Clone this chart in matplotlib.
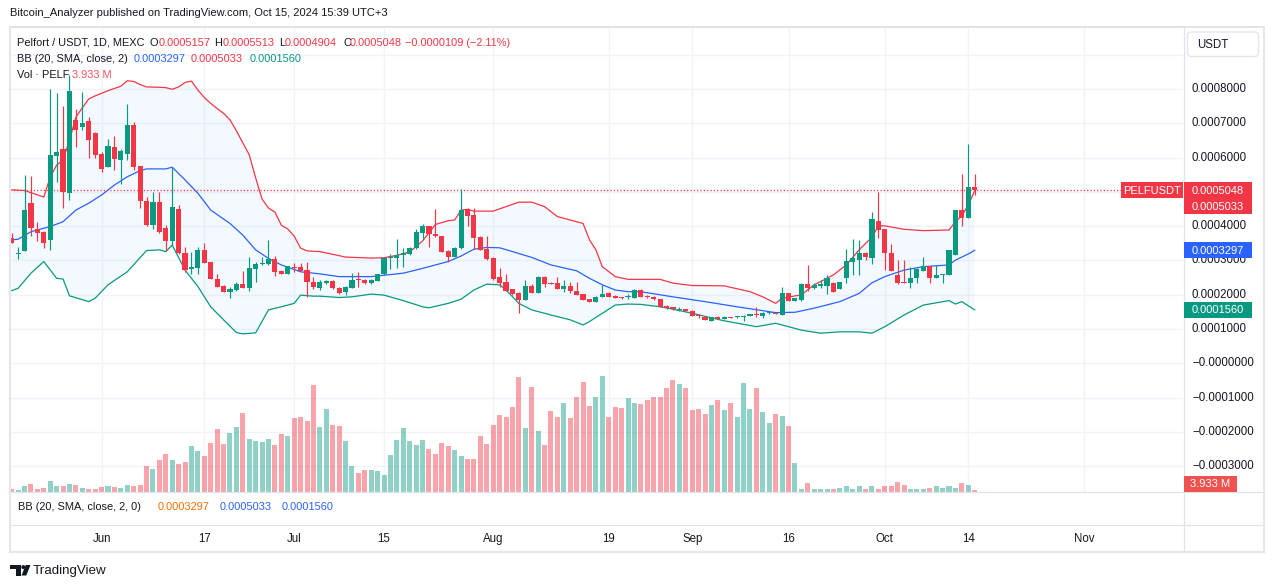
import numpy as np
import pandas as pd
import matplotlib
matplotlib.use("Agg")
import matplotlib.pyplot as plt
import matplotlib.dates as mdates
import matplotlib.transforms as mtransforms
from matplotlib.patches import Rectangle, Polygon, Circle, FancyBboxPatch
from matplotlib.lines import Line2D

plt.rcParams['font.family'] = ['Liberation Sans', 'DejaVu Sans']

# ---------------- data (prices in units of 0.0001 USDT) ----------------
UNIT = 1e-4
START = "2024-05-18"

OPEN = [3.67, 3.18, 3.29, 4.67, 3.92, 3.82, 3.60, 6.05, 6.25, 4.98,
        7.10, 6.90, 7.07, 6.72, 6.11, 5.74, 6.31, 5.93, 6.11, 6.95,
        5.76, 4.73, 4.04, 4.71, 3.96, 3.57, 4.50, 3.23, 2.74, 2.79,
        3.31, 2.96, 2.46, 2.27, 2.09, 2.14, 2.31, 2.21, 2.76, 2.90,
        2.89, 3.04, 2.70, 2.62, 2.81, 2.81, 2.72, 2.38, 2.19, 2.34,
        2.40, 2.21, 2.09, 2.21, 2.44, 2.43, 2.33, 2.41, 2.60, 3.07,
        3.08, 3.15, 3.19, 3.35, 3.81, 4.01, 3.76, 3.71, 3.29, 3.11,
        3.35, 4.49, 4.33, 3.68, 3.34, 3.08, 2.53, 2.36, 2.16, 2.06,
        1.85, 2.26, 2.06, 2.53, 2.34, 2.35, 2.18, 2.26, 2.11, 2.02,
        1.88, 1.80, 1.95, 2.04, 1.97, 1.92, 1.94, 1.92, 2.14, 1.96,
        1.95, 1.88, 1.68, 1.63, 1.57, 1.59, 1.54, 1.40, 1.36, 1.25,
        1.36, 1.29, 1.34, 1.35, 1.34, 1.38, 1.43, 1.39, 1.46, 1.47,
        1.41, 2.04, 1.83, 1.85, 2.31, 2.20, 2.26, 2.26, 2.35, 2.17,
        2.50, 2.97, 3.02, 3.23, 3.08, 4.15, 3.92, 3.21, 2.58, 2.37,
        2.35, 2.48, 2.70, 2.84, 2.50, 2.58, 2.59, 3.16, 4.47, 4.25,
        5.157]
HIGH = [3.79, 3.40, 5.49, 5.47, 4.11, 3.85, 8.00, 7.87, 7.49, 8.41,
        7.41, 7.92, 7.19, 6.75, 6.15, 6.53, 6.63, 6.25, 7.56, 7.04,
        5.76, 4.86, 5.00, 5.01, 4.03, 5.74, 4.62, 3.40, 3.24, 3.40,
        3.50, 2.97, 2.60, 2.28, 2.24, 2.36, 2.70, 3.11, 2.95, 3.11,
        3.60, 3.14, 2.72, 2.85, 2.94, 2.93, 2.96, 2.53, 2.42, 2.43,
        2.42, 2.22, 2.25, 2.63, 2.66, 2.45, 2.46, 2.62, 3.09, 3.19,
        3.63, 3.36, 3.40, 3.92, 4.06, 4.02, 4.50, 3.72, 3.30, 3.39,
        5.09, 4.54, 4.54, 3.71, 3.71, 3.09, 2.77, 2.61, 2.18, 2.07,
        2.43, 2.30, 2.55, 2.55, 2.36, 2.51, 2.43, 2.36, 2.36, 2.03,
        1.89, 1.96, 2.29, 2.07, 1.98, 1.94, 2.02, 2.16, 2.16, 2.00,
        1.96, 1.89, 1.69, 1.64, 1.65, 1.60, 1.55, 1.44, 1.38, 1.35,
        1.37, 1.37, 1.35, 1.39, 1.41, 1.45, 1.65, 1.49, 1.49, 1.48,
        2.24, 2.06, 1.91, 2.33, 2.87, 2.34, 2.43, 2.58, 2.37, 2.37,
        3.34, 3.62, 3.60, 3.24, 4.42, 5.01, 3.93, 3.48, 3.01, 3.01,
        2.82, 2.77, 3.11, 2.85, 2.87, 2.62, 3.32, 4.48, 5.52, 6.40,
        5.513]
LOW = [3.50, 3.04, 3.27, 3.72, 3.58, 3.37, 3.31, 5.30, 4.54, 4.76,
       6.32, 6.80, 6.00, 6.00, 5.59, 5.72, 5.64, 5.22, 5.93, 5.64,
       4.54, 4.01, 3.92, 3.81, 3.28, 3.45, 3.19, 2.67, 2.61, 2.60,
       2.93, 2.45, 2.23, 2.08, 1.92, 2.12, 2.20, 2.11, 2.38, 2.87,
       2.88, 2.56, 2.60, 2.61, 2.67, 2.68, 1.95, 2.16, 2.15, 2.32,
       2.17, 2.01, 2.00, 2.19, 2.24, 2.31, 2.30, 2.40, 2.59, 2.75,
       2.79, 2.80, 3.17, 3.33, 3.62, 3.38, 3.69, 3.24, 2.95, 3.09,
       3.34, 4.02, 3.34, 3.30, 3.01, 2.43, 2.24, 2.10, 2.00, 1.46,
       1.84, 2.04, 2.04, 2.24, 2.30, 2.16, 2.09, 2.04, 1.99, 1.84,
       1.78, 1.79, 1.94, 1.93, 1.91, 1.88, 1.88, 1.91, 1.94, 1.90,
       1.86, 1.64, 1.60, 1.57, 1.54, 1.52, 1.37, 1.31, 1.26, 1.24,
       1.28, 1.28, 1.32, 1.33, 1.25, 1.37, 1.36, 1.33, 1.44, 1.43,
       1.40, 1.82, 1.82, 1.82, 2.12, 2.18, 2.19, 2.02, 2.08, 2.16,
       2.34, 2.58, 2.58, 3.02, 2.90, 3.65, 2.72, 2.69, 2.32, 2.33,
       2.19, 2.34, 2.69, 2.35, 2.49, 2.35, 2.58, 3.15, 4.01, 4.24,
       4.904]
CLOSE = [3.50, 3.20, 4.47, 3.96, 3.81, 3.51, 6.08, 6.17, 5.01, 7.94,
         6.81, 7.02, 6.51, 6.08, 5.67, 6.34, 5.96, 6.19, 6.95, 5.74,
         4.72, 4.04, 4.71, 3.84, 3.58, 4.56, 3.21, 2.72, 2.80, 3.31,
         2.94, 2.46, 2.24, 2.09, 2.17, 2.31, 2.21, 2.79, 2.91, 2.93,
         3.04, 2.67, 2.61, 2.83, 2.79, 2.69, 2.37, 2.22, 2.38, 2.40,
         2.19, 2.06, 2.24, 2.43, 2.42, 2.33, 2.43, 2.60, 3.08, 3.11,
         3.16, 3.23, 3.37, 3.84, 4.01, 3.76, 3.70, 3.26, 3.11, 3.37,
         4.47, 4.31, 3.67, 3.31, 3.03, 2.45, 2.35, 2.11, 2.02, 1.85,
         2.26, 2.06, 2.53, 2.32, 2.32, 2.17, 2.26, 2.10, 2.00, 1.85,
         1.80, 1.95, 2.02, 1.95, 1.92, 1.91, 1.96, 2.14, 1.95, 1.94,
         1.87, 1.65, 1.61, 1.58, 1.59, 1.53, 1.38, 1.39, 1.27, 1.34,
         1.29, 1.36, 1.33, 1.36, 1.39, 1.44, 1.42, 1.46, 1.47, 1.44,
         2.04, 1.83, 1.90, 2.32, 2.19, 2.28, 2.32, 2.48, 2.09, 2.36,
         2.99, 3.08, 3.23, 3.11, 4.21, 3.89, 3.21, 2.70, 2.34, 2.35,
         2.49, 2.75, 2.84, 2.50, 2.58, 2.60, 3.31, 4.47, 4.25, 5.157,
         5.048]
VOLUME_M = [6, 4, 12, 16, 6, 8, 22, 12, 12, 16, 14, 8, 6, 6, 10, 12, 10, 8, 14, 12,
            14, 52, 46, 64, 76, 64, 56, 60, 92, 82, 72, 98, 126, 96, 118, 130, 158, 106, 102, 100,
            106, 94, 116, 112, 148, 150, 142, 214, 130, 166, 134, 132, 102, 52, 38, 44, 44, 42, 34, 74,
            104, 128, 102, 94, 104, 86, 76, 98, 92, 84, 72, 66, 66, 112, 96, 134, 154, 150, 170, 230,
            128, 210, 122, 94, 162, 150, 178, 148, 190, 220, 172, 190, 232, 150, 170, 168, 188, 178, 176, 184,
            190, 190, 208, 224, 216, 208, 164, 166, 156, 174, 184, 164, 178, 150, 218, 166, 208, 160, 138, 156,
            152, 132, 58, 4.5, 18, 4.5, 4.5, 6, 6, 8, 12, 4.5, 12, 6, 12, 6, 12, 12, 20, 14,
            6, 4.5, 6, 8, 12, 8, 12, 8, 18, 14, 3.933]

# Bollinger Bands (20, SMA, close, 2): candle index -> value
UPPER_IDX = [0, 2, 5, 6, 7, 8, 9, 10, 11, 12, 13, 15, 17, 18, 19, 20, 21, 23, 24, 25, 26, 27, 28, 29,
             30, 31, 32, 33, 34, 35, 36, 37, 38, 39, 40, 41, 42, 43, 44, 45, 46, 48, 52, 56, 58, 60,
             62, 64, 66, 68, 69, 70, 71, 72, 75, 77, 79, 81, 83, 85, 88, 89, 90, 91, 92, 94, 96, 98,
             101, 103, 106, 111, 115, 117, 119, 120, 123, 125, 128, 130, 132, 134, 135, 136, 139,
             142, 146, 147, 148, 149, 150]
UPPER = [5.06, 5.04, 4.85, 5.43, 5.78, 5.93, 6.51, 7.18, 7.45, 7.71, 7.80, 7.95, 8.08, 8.24, 8.22,
         8.13, 8.06, 8.05, 8.04, 7.99, 8.06, 8.19, 8.23, 7.97,
         7.75, 7.58, 7.43, 7.29, 7.10, 6.78, 6.43, 6.08, 5.41, 4.79, 4.53, 4.41, 4.03, 3.92, 3.71,
         3.36, 3.28, 3.26, 3.10, 3.07, 3.08, 3.15,
         3.25, 3.57, 4.05, 4.16, 4.18, 4.47, 4.49, 4.44, 4.44, 4.57, 4.70, 4.70, 4.57, 4.28, 4.13,
         4.08, 3.60, 3.31, 2.82, 2.53, 2.45, 2.45,
         2.45, 2.34, 2.27, 2.26, 2.09, 1.94, 1.75, 1.90, 2.00, 2.29, 2.58, 2.87, 3.31, 3.68, 4.01,
         4.01, 3.91, 3.87, 3.89, 4.13, 4.30, 4.62, 5.033]
MID_IDX = [0, 1, 3, 6, 8, 10, 12, 14, 16, 18, 20, 21, 24, 25, 27, 29, 31, 34, 36, 38, 40, 42, 45,
           48, 51, 56, 61, 64, 68, 70, 72, 74, 76, 78, 81, 84, 88, 90, 92, 94, 96, 98, 103, 108,
           113, 119, 122, 125, 129, 132, 134, 136, 139, 142, 146, 147, 149, 150]
MID = [3.60, 3.62, 3.84, 3.99, 4.13, 4.47, 4.67, 4.91, 5.20, 5.44, 5.62, 5.67, 5.67, 5.72, 5.35,
       4.96, 4.47, 4.08, 3.74, 3.31, 3.06, 2.87, 2.67,
       2.61, 2.53, 2.53, 2.63, 2.77, 2.97, 3.13, 3.33, 3.38, 3.37, 3.26, 3.09, 2.87, 2.70, 2.48,
       2.29, 2.14, 2.09, 2.09, 1.94, 1.80,
       1.65, 1.48, 1.49, 1.61, 1.80, 2.04, 2.35, 2.53, 2.72, 2.82, 2.87, 3.01, 3.19, 3.297]
LOWER_IDX = [0, 1, 3, 5, 7, 8, 9, 12, 13, 15, 18, 21, 23, 24, 25, 27, 29, 31, 33, 35, 36, 38, 40,
             42, 44, 45, 47, 48, 51, 53, 56, 58, 61, 64, 65, 68, 70, 72, 74, 76, 77, 79, 81, 84,
             87, 89, 90, 92, 94, 96, 98, 101, 103, 106, 111, 116, 119, 121, 123, 126, 129, 132,
             134, 136, 139, 142, 146, 147, 148, 150]
LOWER = [2.12, 2.19, 2.63, 2.97, 2.48, 2.46, 1.97, 1.80, 1.90, 2.29, 2.67, 3.29, 3.31, 3.26, 3.45,
         2.72, 2.24, 1.65, 1.27, 0.90, 0.86, 0.89, 1.56,
         1.65, 1.75, 1.99, 1.96, 1.96, 1.92, 1.94, 2.02, 1.99, 1.83, 1.65, 1.62, 1.75, 1.87, 2.14,
         2.31, 2.29, 2.14, 1.75, 1.56, 1.41,
         1.27, 1.12, 1.22, 1.46, 1.70, 1.73, 1.72, 1.65, 1.58, 1.46, 1.24, 1.07, 1.17, 1.07, 0.97,
         0.88, 0.92, 0.92,
         0.88, 1.07, 1.41, 1.70, 1.83, 1.73, 1.80, 1.56]

TICK_DATES = ["2024-06-01", "2024-06-17", "2024-07-01", "2024-07-15", "2024-08-01", "2024-08-19",
              "2024-09-01", "2024-09-16", "2024-10-01", "2024-10-14", "2024-11-01"]
TICK_LABELS = ["Jun", "17", "Jul", "15", "Aug", "19", "Sep", "16", "Oct", "14", "Nov"]
PRICE_TICKS = [-3, -2, -1, 0, 1, 2, 3, 4, 5, 6, 7, 8, 9]

# ---------------- styling ----------------
UP_COL = "#089981"
DN_COL = "#F23645"
BLUE = "#2962FF"
ORANGE = "#FF6D00"
TXT = "#131722"
GRID = "#f0f3fa"
BORDER = "#e0e3eb"

W, H = 1273, 588
fig = plt.figure(figsize=(W / 100, H / 100), dpi=100)
fig.patch.set_facecolor("white")
PX = mtransforms.Affine2D().scale(1 / W, -1 / H).translate(0, 1) + fig.transFigure

L_PX, R_PX, T_PX, B_PX = 10, 1183, 28, 491.5
ax = fig.add_axes([L_PX / W, 1 - B_PX / H, (R_PX - L_PX) / W, (B_PX - T_PX) / H])
dates = pd.date_range(START, periods=len(OPEN), freq="D")
xd = mdates.date2num(dates)
ax.set_xlim(xd[0] - 0.265, xd[0] + 182.45)
ax.set_ylim(-3.735 * UNIT, 9.778 * UNIT)
for s in ax.spines.values():
    s.set_visible(False)
ax.set_xticks([])
ax.set_yticks([])

# grid
for v in PRICE_TICKS:
    ax.axhline(v * UNIT, color=GRID, lw=1.0, zorder=0)
tick_x = mdates.date2num(pd.to_datetime(TICK_DATES))
for tx in tick_x:
    ax.axvline(tx, color=GRID, lw=1.0, zorder=0)

# Bollinger band fill + lines
ux = xd[UPPER_IDX]; lx = xd[LOWER_IDX]
poly_x = np.concatenate([ux, lx[::-1]])
poly_y = np.concatenate([np.array(UPPER), np.array(LOWER)[::-1]]) * UNIT
ax.fill(poly_x, poly_y, color="#2196F3", alpha=0.05, lw=0, zorder=1)
ax.plot(ux, np.array(UPPER) * UNIT, color=DN_COL, lw=0.9, zorder=2)
ax.plot(xd[MID_IDX], np.array(MID) * UNIT, color=BLUE, lw=0.9, zorder=2)
ax.plot(lx, np.array(LOWER) * UNIT, color=UP_COL, lw=0.9, zorder=2)

# last price dotted line
ax.axhline(CLOSE[-1] * UNIT, color=DN_COL, lw=1.0, ls=(0, (0.8, 1.6)), zorder=2)

# candles
o = np.array(OPEN) * UNIT; h = np.array(HIGH) * UNIT
l = np.array(LOW) * UNIT; c = np.array(CLOSE) * UNIT
up = c >= o
cols = np.where(up, UP_COL, DN_COL)
ax.vlines(xd, l, h, colors=cols, lw=0.85, zorder=3)
body_h = np.maximum(np.abs(c - o), 0.03 * UNIT)
ax.bar(xd, body_h, 0.8, bottom=np.minimum(o, c), color=cols, lw=0, zorder=4)

# volume overlay
vax = ax.twinx()
vax.set_ylim(0, 927)
vax.bar(xd, VOLUME_M, 0.78, color=cols, alpha=0.45, lw=0)
vax.axis("off")


def ypx(axis, v):
    return H - axis.transData.transform((xd[0], v))[1]


# ---------------- frame ----------------
def hline(y, x0, x1, col=BORDER, lw=0.9):
    fig.add_artist(Line2D([x0, x1], [y, y], transform=PX, color=col, lw=lw, zorder=4))


def vline(x, y0, y1, col=BORDER, lw=0.9):
    fig.add_artist(Line2D([x, x], [y0, y1], transform=PX, color=col, lw=lw, zorder=4))


hline(27, 9.5, 1264, lw=1.4)
hline(552, 9.5, 1264, col="#e6e7ee", lw=1.6)
vline(9.5, 27, 552, col="#e6e7ee", lw=1.6)
vline(1263.5, 27, 552, lw=1.2)
hline(492, 10, 1263)
hline(525, 10, 1263)
vline(1183.5, 27, 552)

# ---------------- price-scale tags ----------------
TAG_FS = 8.0


def tag(x0, x1, yc, col, text):
    fig.add_artist(Rectangle((x0, yc - 8), x1 - x0, 16, transform=PX, facecolor=col,
                             edgecolor="none", zorder=6))
    fig.text((x0 + x1) / 2, yc + 0.5, text, transform=PX, fontsize=TAG_FS, color="white",
             va="center", ha="center", zorder=7)


close_y = ypx(ax, CLOSE[-1] * UNIT)
upper_y = ypx(ax, UPPER[-1] * UNIT)
if abs(upper_y - close_y) < 16:
    upper_y = close_y + 16
mid_y = ypx(ax, MID[-1] * UNIT)
low_y = ypx(ax, LOWER[-1] * UNIT)
vol_y = min(H - vax.transData.transform((xd[-1], VOLUME_M[-1]))[1], B_PX - 8)
tag_centers = [close_y, upper_y, mid_y, low_y]

# ---------------- price axis ----------------
for v in PRICE_TICKS:
    if v > 8:
        continue
    yv = ypx(ax, v * UNIT)
    # labels fully hidden behind a price tag are not shown (as on the reference)
    if any(abs(yv - t) < 6 for t in tag_centers):
        continue
    s = f"{abs(v) * UNIT:.7f}"
    if v <= 0:
        s = "\u2212" + s
    fig.text(1192, yv, s, transform=PX, fontsize=8.3, color=TXT,
             va="center", ha="left", zorder=3)

fig.add_artist(FancyBboxPatch((1187.5, 32), 71, 24.5, boxstyle="round,pad=0,rounding_size=4",
                              transform=PX, facecolor="white", edgecolor=BORDER, lw=0.9, zorder=4))
fig.text(1197, 44.5, "USDT", transform=PX, fontsize=8.3, color=TXT, va="center", ha="left", zorder=5)

tag(1121, 1182.5, close_y, DN_COL, "PELFUSDT")
tag(1184, 1252, close_y, DN_COL, f"{CLOSE[-1] * UNIT:.7f}")
tag(1184, 1252, upper_y, DN_COL, f"{UPPER[-1] * UNIT:.7f}")
tag(1184, 1252, mid_y, BLUE, f"{MID[-1] * UNIT:.7f}")
tag(1184, 1252, low_y, UP_COL, f"{LOWER[-1] * UNIT:.7f}")
tag(1184, 1237, vol_y, "#ef5350", f"{VOLUME_M[-1]:.3f} M")

# ---------------- time axis ----------------
for tx, lab in zip(tick_x, TICK_LABELS):
    xp = ax.transData.transform((tx, 0))[0]
    fig.text(xp, 539, lab, transform=PX, fontsize=8.3, color=TXT, va="center", ha="center")

# ---------------- legends ----------------
FS = 7.9
fig.text(10, 13, "Bitcoin_Analyzer published on TradingView.com, Oct 15, 2024 15:39 UTC+3",
         transform=PX, fontsize=8.0, color=TXT, va="center", ha="left")

chg = (CLOSE[-1] - CLOSE[-2]) * UNIT
pct = (CLOSE[-1] - CLOSE[-2]) / CLOSE[-2] * 100
sign = "\u2212" if chg < 0 else "+"
y1 = 42.5
pieces1 = [(17, "Pelfort / USDT, 1D, MEXC", TXT),
           (149, "O", TXT), (158.5, f"{OPEN[-1] * UNIT:.7f}", DN_COL),
           (214.5, "H", TXT), (222.5, f"{HIGH[-1] * UNIT:.7f}", DN_COL),
           (279, "L", TXT), (284.5, f"{LOW[-1] * UNIT:.7f}", DN_COL),
           (343, "C", TXT), (350, f"{CLOSE[-1] * UNIT:.7f}", DN_COL),
           (405, f"{sign}{abs(chg):.7f} ({sign}{abs(pct):.2f}%)", DN_COL)]
for xp, s, col in pieces1:
    fig.text(xp, y1, s, transform=PX, fontsize=FS, color=col, va="center", ha="left", zorder=8)

y2 = 59
pieces2 = [(17, "BB (20, SMA, close, 2)", TXT),
           (133.5, f"{MID[-1] * UNIT:.7f}", BLUE),
           (191, f"{UPPER[-1] * UNIT:.7f}", DN_COL),
           (249.5, f"{LOWER[-1] * UNIT:.7f}", UP_COL)]
for xp, s, col in pieces2:
    fig.text(xp, y2, s, transform=PX, fontsize=FS, color=col, va="center", ha="left", zorder=8)

y3 = 75.5
fig.text(17, y3, "Vol \u00b7 PELF", transform=PX, fontsize=FS, color=TXT, va="center", ha="left", zorder=8)
fig.text(72.5, y3, f"{VOLUME_M[-1]:.3f} M", transform=PX, fontsize=FS, color="#F7525F",
         va="center", ha="left", zorder=8)

y4 = 507
pieces4 = [(18, "BB (20, SMA, close, 2, 0)", TXT),
           (157.5, f"{MID[-1] * UNIT:.7f}", ORANGE),
           (219.5, f"{UPPER[-1] * UNIT:.7f}", BLUE),
           (282, f"{LOWER[-1] * UNIT:.7f}", BLUE)]
for xp, s, col in pieces4:
    fig.text(xp, y4, s, transform=PX, fontsize=FS, color=col, va="center", ha="left", zorder=8)

# ---------------- footer logo ----------------
fig.add_artist(Rectangle((10, 565), 10.7, 4.2, transform=PX, facecolor=TXT, edgecolor="none"))
fig.add_artist(Rectangle((16, 565), 4.7, 10.5, transform=PX, facecolor=TXT, edgecolor="none"))
fig.add_artist(Circle((23.3, 567.1), 2.0, transform=PX, facecolor=TXT, edgecolor="none"))
fig.add_artist(Polygon([(21.5, 575.5), (26.3, 575.5), (30.5, 565), (25.7, 565)], closed=True,
                       transform=PX, facecolor=TXT, edgecolor="none"))
fig.text(33, 571, "TradingView", transform=PX, fontsize=9.6, color=TXT, va="center", ha="left")

fig.savefig("out.png", dpi=100, facecolor="white")
